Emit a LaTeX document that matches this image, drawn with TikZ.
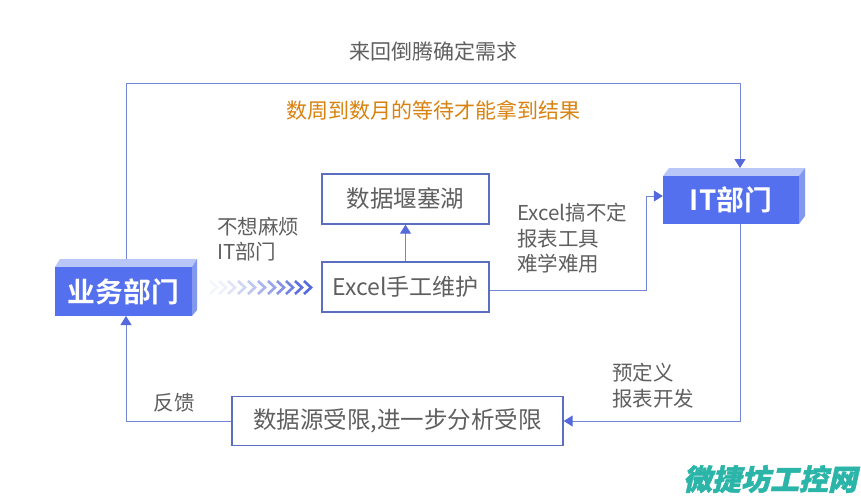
\documentclass[tikz,border=0pt]{standalone}
\usepackage{fontspec}
\setmainfont{Noto Sans CJK SC}
\newfontfamily\cjkbold{Noto Sans CJK SC Bold}
\newfontfamily\wmfont[FakeSlant=0.22,FakeBold=1.5]{Noto Sans CJK SC Black}
\usetikzlibrary{arrows.meta,shapes.geometric}
\definecolor{lineblue}{HTML}{7386D2}
\definecolor{borderblue}{HTML}{5A6FC0}
\definecolor{tipblue}{HTML}{5568DC}
\definecolor{chev}{HTML}{5568DC}
\definecolor{boxblue}{HTML}{5570EE}
\definecolor{sidelight}{HTML}{B9C6F8}
\definecolor{sidedark}{HTML}{8297EE}
\definecolor{txt}{HTML}{5F5F5F}
\definecolor{orangetxt}{HTML}{D9820F}
\definecolor{wmteal}{HTML}{2AB5A8}
\tikzset{x=1pt,y=-1pt,
 plainline/.style={draw=lineblue,line width=1pt},
 conn/.style={plainline,-{Triangle[length=9pt,width=11pt,color=tipblue]}},
 plainbox/.style={draw=borderblue,line width=1.4pt,fill=white,inner sep=0pt,text=txt,font=\fontsize{23.5}{26}\selectfont},
 lbl/.style={text=txt,font=\fontsize{20.5}{25.5}\selectfont,align=left,inner sep=0pt},
 solidbox/.style={fill=boxblue,inner sep=0pt,text=white,font=\cjkbold\fontsize{27.8}{30}\selectfont}}
\begin{document}
\begin{tikzpicture}
\useasboundingbox (0,0) rectangle (861,501);
\fill[white] (0,0) rectangle (861,501);
% IT box
\fill[sidelight] (663,176) -- (669,168) -- (805,168) -- (799,176) -- cycle;
\fill[sidedark] (799,176) -- (805,168) -- (805,216) -- (799,224) -- cycle;
\node[solidbox,minimum width=136pt,minimum height=48pt] (it) at (731,200) {\raisebox{1pt}{IT部门}};
% Biz box
\fill[sidelight] (55,267) -- (60,259) -- (197,259) -- (192,267) -- cycle;
\fill[sidedark] (192,267) -- (197,259) -- (197,310) -- (192,316) -- cycle;
\node[solidbox,minimum width=137pt,minimum height=49pt] (biz) at (123.5,291.5) {\raisebox{1.5pt}{业务部门}};
% plain boxes
\node[plainbox,minimum width=167pt,minimum height=50pt] (lake) at (405.5,199) {数据堰塞湖};
\node[plainbox,minimum width=167pt,minimum height=50pt] (xl) at (405.5,287) {\fontsize{23}{26}\selectfont Excel手工维护};
\node[plainbox,minimum width=331pt,minimum height=49pt] (src) at (397.5,421) {数据源受限,进一步分析受限};
% connectors
\coordinate (bizt) at (126,259);
\coordinate (tl) at (126,83);
\coordinate (tr) at (740,83);
\coordinate (ittop) at (740,168);
\coordinate (itbot) at (740,224);
\coordinate (br) at (740,421);
\coordinate (bl) at (126,421);
\coordinate (bizb) at (126,316);
\coordinate (mid) at (646,290);
\coordinate (midt) at (646,196);
\draw[plainline] (bizt) -- (tl) -- (tr);
\draw[conn] (tr) -- (ittop);
\draw[conn] (itbot) -- (br) -- (src.east);
\draw[conn] (src.west) -- (bl) -- (bizb);
\draw[conn] (xl.north) -- (lake.south);
\draw[conn] (xl.east |- mid) -- (mid) -- (midt) -- (it.west |- midt);
% chevrons
\foreach \x/\c in {210/6,219/10,228/18,238/28,248/38,258/50,268/60,277/72,286/82,295/95,304/100}{
 \draw[chev!\c!white,line width=2.6pt] (\x,281) -- (\x+7,287.5) -- (\x,294);
}
% labels
\node[lbl,font=\fontsize{21}{24}\selectfont] (t1) at (433,51) {来回倒腾确定需求};
\node[text=orangetxt,font=\fontsize{21}{24}\selectfont,inner sep=0pt] (t2) at (433.5,110) {数周到数月的等待才能拿到结果};
\node[lbl,anchor=north west] (t3) at (217,216.5) {不想麻烦\\IT部门};
\node[lbl,anchor=north west] (t4) at (517,203) {Excel搞不定\\报表工具\\难学难用};
\node[lbl,anchor=north west] (t5) at (612,363) {预定义\\报表开发};
\node[lbl] (t6) at (174,403) {反馈};
\node[text=wmteal,font=\wmfont\fontsize{29}{32}\selectfont,inner sep=0pt] (wm) at (770,479) {微捷坊工控网};
\end{tikzpicture}
\end{document}
